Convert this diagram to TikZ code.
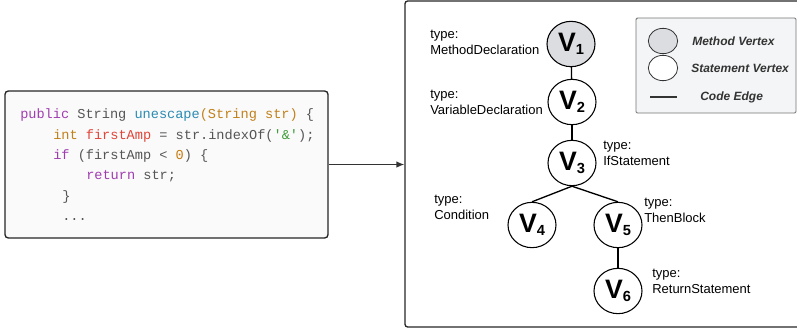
\documentclass[tikz,border=0pt]{standalone}
\usepackage{fontspec}
\setmainfont{Liberation Sans}
\setmonofont{Liberation Mono}
\usetikzlibrary{positioning,shapes.geometric,arrows.meta}

\definecolor{kwpurple}{HTML}{A03CB0}
\definecolor{fnblue}{HTML}{2B8BB3}
\definecolor{tybrown}{HTML}{C1801A}
\definecolor{varred}{HTML}{E0443A}
\definecolor{strgreen}{HTML}{3F9A3A}
\definecolor{numorange}{HTML}{C87A10}
\definecolor{codegray}{HTML}{555555}
\definecolor{methodfill}{HTML}{DCDDE1}
\definecolor{legendfill}{HTML}{F4F5F6}
\definecolor{codefill}{HTML}{FAFAFA}

\newcommand{\vname}[1]{V\raisebox{-2.6pt}{\fontsize{11}{11}\selectfont #1}}

\begin{document}
\begin{tikzpicture}[x=0.75pt,y=-0.75pt,
	vertex/.style={ellipse,draw,line width=0.8pt,fill=white,inner sep=0pt,
		minimum width=36pt,minimum height=34pt,font=\bfseries\fontsize{20}{20}\selectfont},
	typelab/.style={anchor=west,align=left,inner sep=0pt,font=\fontsize{9.75}{12}\selectfont},
	codeline/.style={anchor=base west,inner sep=0pt,text=codegray,font=\ttfamily\fontsize{10.2}{12}\selectfont},
	legvertex/.style={ellipse,draw=black!80,line width=0.6pt,inner sep=0pt,minimum width=22pt,minimum height=19pt},
	legtext/.style={anchor=west,inner sep=0pt,text=black!80,font=\bfseries\itshape\fontsize{9}{11}\selectfont}]
	\useasboundingbox (0,0) rectangle (797,329);

	% code box and graph panel
	\node[draw=black!85,line width=1pt,rounded corners=2.5pt,fill=codefill,minimum width=242.25pt,minimum height=110.25pt]	(code)	at	(166.5,164.5)	{};
	\node[draw=black!85,line width=1pt,rounded corners=2pt,minimum width=300pt,minimum height=244.5pt]	(panel)	at	(605,164)	{};
	\draw[-{Latex[length=6pt,width=5pt]},line width=1pt,black!80]	(code.east)	--	(code.east -| panel.west);

	\node[codeline]	(c1)	at	(20,118)	{\textcolor{kwpurple}{public} String \textcolor{fnblue}{unescape}\textcolor{tybrown}{(String str)} \{};
	\node[codeline]	(c2)	at	(53,139)	{\textcolor{tybrown}{int} \textcolor{varred}{firstAmp} = str.indexOf(\textcolor{strgreen}{\textquotesingle\&\textquotesingle});};
	\node[codeline]	(c3)	at	(53,159)	{\textcolor{kwpurple}{if} (firstAmp < \textcolor{numorange}{0}) \{};
	\node[codeline]	(c4)	at	(86,179)	{\textcolor{kwpurple}{return} str;};
	\node[codeline]	(c5)	at	(62,200)	{\}};
	\node[codeline]	(c6)	at	(62,220)	{...};

	% legend
	\node[draw=black!55,line width=0.7pt,rounded corners=1pt,fill=legendfill,minimum width=120pt,minimum height=71.25pt]	(legend)	at	(716,65.5)	{};
	\node[legvertex,fill=methodfill]	(lm)	at	(663,41)	{};
	\node[legvertex,fill=white]		(ls)	at	(663,68)	{};
	\coordinate	(le1)	at	(650,97);
	\coordinate	(le2)	at	(677,97);
	\draw[line width=1pt,black!80]	(le1)	--	(le2);
	\node[legtext]	(lmt)	at	(692,41)	{Method Vertex};
	\node[legtext]	(lst)	at	(691,68)	{Statement Vertex};
	\node[legtext]	(let)	at	(700,97)	{Code Edge};

	% vertices
	\node[vertex,fill=methodfill]	(v1)	at	(571,44)	{\vname{1}};
	\node[vertex]	(v2)	at	(572,102)	{\vname{2}};
	\node[vertex]	(v3)	at	(572,163)	{\vname{3}};
	\node[vertex]	(v4)	at	(532,225)	{\vname{4}};
	\node[vertex]	(v5)	at	(618,225)	{\vname{5}};
	\node[vertex]	(v6)	at	(618,291)	{\vname{6}};

	\path[draw,line width=1pt]	(v1)	--	(v2);
	\path[draw,line width=1pt]	(v2)	--	(v3);
	\path[draw,line width=1pt]	(v3.south)	--	(v4.north);
	\path[draw,line width=1pt]	(v3.south)	--	(v5.north);
	\path[draw,line width=1pt]	(v5)	--	(v6);

	\node[typelab]	(t1)	at	(430,42)	{type:\\MethodDeclaration};
	\node[typelab]	(t2)	at	(430,102.5)	{type:\\VariableDeclaration};
	\node[typelab]	(t3)	at	(603,153)	{type:\\IfStatement};
	\node[typelab]	(t4)	at	(434,207)	{type:\\Condition};
	\node[typelab]	(t5)	at	(644,210)	{type:\\ThenBlock};
	\node[typelab]	(t6)	at	(652,281)	{type:\\ReturnStatement};
\end{tikzpicture}
\end{document}
